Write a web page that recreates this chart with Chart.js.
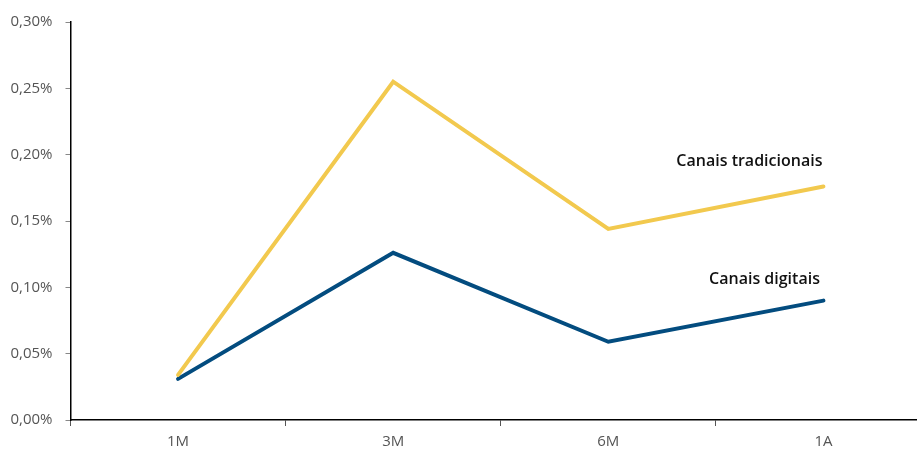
<!DOCTYPE html>
<html>
<head>
<meta charset="utf-8">
<script src="https://cdn.jsdelivr.net/npm/chart.js@4/dist/chart.umd.min.js"></script>
<style>
  html, body { margin: 0; padding: 0; background: #fff; overflow: hidden; }
  #wrap { position: relative; width: 931px; height: 451px; }
</style>
</head>
<body>
<div id="wrap"><canvas id="c"></canvas></div>
<script>
// Horizons and rates (%)
const categories = ['1M', '3M', '6M', '1A'];
const tradicionais = [0.034, 0.255, 0.144, 0.176];
const digitais = [0.031, 0.126, 0.059, 0.090];
const seriesNames = ['Canais tradicionais', 'Canais digitais'];
const yTicks = [0, 0.05, 0.10, 0.15, 0.20, 0.25, 0.30];

const FONT = "'Open Sans', 'Noto Sans', sans-serif";

// Name each series just above its last point, right-aligned
const labelShift = [{ dx: 1, dy: 25 }, { dx: 3.5, dy: 21 }];
const endLabels = {
  id: 'endLabels',
  afterDatasetsDraw(chart) {
    const ctx = chart.ctx;
    ctx.save();
    ctx.font = "600 16px " + FONT;
    ctx.fillStyle = '#111';
    ctx.textAlign = 'right';
    ctx.textBaseline = 'middle';
    chart.data.datasets.forEach((ds, i) => {
      const meta = chart.getDatasetMeta(i);
      const last = meta.data[meta.data.length - 1];
      ctx.fillText(ds.label, last.x - labelShift[i].dx, last.y - labelShift[i].dy);
    });
    ctx.restore();
  }
};

new Chart(document.getElementById('c'), {
  type: 'line',
  data: {
    labels: categories,
    datasets: [
      { label: seriesNames[0], data: tradicionais, borderColor: '#F2C94E', borderWidth: 4,
        pointRadius: 0, tension: 0, borderCapStyle: 'round', borderJoinStyle: 'miter' },
      { label: seriesNames[1], data: digitais, borderColor: '#034C7F', borderWidth: 4,
        pointRadius: 0, tension: 0, borderCapStyle: 'round', borderJoinStyle: 'miter' }
    ]
  },
  options: {
    responsive: true,
    maintainAspectRatio: false,
    animation: false,
    layout: { padding: { top: 22, right: 0, bottom: 0, left: 0 } },
    plugins: { legend: { display: false }, tooltip: { enabled: false } },
    scales: {
      x: {
        offset: true,
        grid: { offset: true, drawOnChartArea: false, drawTicks: true, tickLength: 6, color: '#555' },
        border: { display: true, color: '#000', width: 1.5 },
        ticks: { color: '#555', font: { family: FONT, size: 15 }, padding: 7 },
        afterFit(s) { s.height = 31; }
      },
      y: {
        min: 0, max: 0.30,
        afterBuildTicks(s) { s.ticks = yTicks.map(v => ({ value: v })); },
        grid: { drawOnChartArea: false, drawTicks: true, tickLength: 5, color: '#888' },
        border: { display: true, color: '#000', width: 1.5 },
        ticks: {
          color: '#555', font: { family: FONT, size: 15 }, padding: 13,
          callback: v => v.toFixed(2).replace('.', ',') + '%'
        },
        afterFit(s) { s.width = 70.5; }
      }
    }
  },
  plugins: [endLabels]
});
</script>
</body>
</html>
